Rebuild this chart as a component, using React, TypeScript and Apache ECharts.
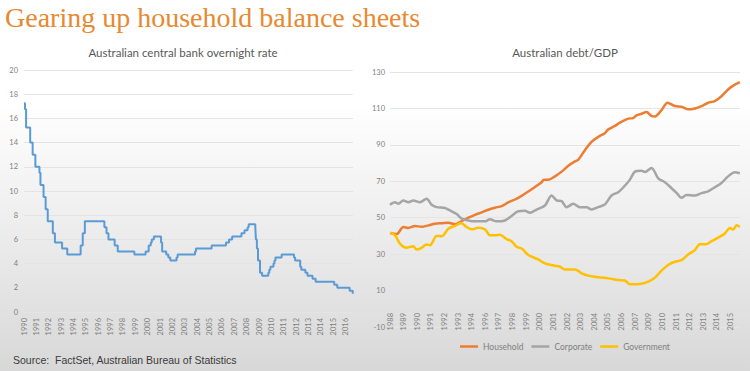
import React, { useEffect, useRef } from "react";
import * as echarts from "echarts";

// Australian cash rate: [decimal year of change, rate %]
const cashRate: [number, number][] = [
  [1990.0, 17.25], [1990.08, 16.75], [1990.17, 15.25], [1990.5, 14.0], [1990.7, 13.0],
  [1990.92, 12.0], [1991.25, 11.5], [1991.33, 10.5], [1991.58, 9.5], [1991.75, 8.5],
  [1991.92, 7.5], [1992.33, 6.5], [1992.5, 5.75], [1993.08, 5.25], [1993.5, 4.75],
  [1994.58, 5.5], [1994.75, 6.5], [1994.92, 7.5], [1996.5, 7.0], [1996.67, 6.5],
  [1996.83, 6.0], [1997.33, 5.5], [1997.58, 5.0], [1998.92, 4.75], [1999.83, 5.0],
  [2000.08, 5.5], [2000.25, 5.75], [2000.33, 6.0], [2000.5, 6.25], [2001.08, 5.75],
  [2001.17, 5.0], [2001.5, 4.75], [2001.67, 4.5], [2001.83, 4.25], [2002.33, 4.5],
  [2002.42, 4.75], [2003.83, 5.0], [2003.9, 5.25], [2005.17, 5.5], [2006.33, 5.75],
  [2006.58, 6.0], [2006.83, 6.25], [2007.58, 6.5], [2007.83, 6.75], [2008.08, 7.0],
  [2008.17, 7.25], [2008.7, 7.0], [2008.75, 6.0], [2008.83, 5.25], [2008.92, 4.25],
  [2009.08, 3.25], [2009.25, 3.0], [2009.75, 3.25], [2009.83, 3.5], [2009.92, 3.75],
  [2010.17, 4.0], [2010.25, 4.25], [2010.33, 4.5], [2010.83, 4.75], [2011.83, 4.5],
  [2011.92, 4.25], [2012.33, 3.75], [2012.42, 3.5], [2012.75, 3.25], [2012.92, 3.0],
  [2013.33, 2.75], [2013.58, 2.5], [2015.08, 2.25], [2015.33, 2.0], [2016.33, 1.75],
  [2016.58, 1.5],
];

// Debt / GDP (%): [decimal year, value]
const household: [number, number][] = [
  [1988.42, 41.6], [1988.95, 41.0], [1989.48, 44.9], [1989.88, 44.4], [1990.41, 45.5],
  [1990.94, 45.0], [1991.47, 45.8], [1992.0, 46.7], [1992.53, 47.0], [1993.06, 47.3],
  [1993.59, 46.4], [1993.98, 47.6], [1994.65, 50.0], [1995.18, 51.6], [1995.71, 52.9],
  [1996.24, 54.4], [1996.77, 55.5], [1997.3, 56.4], [1997.83, 58.4], [1998.36, 60.0],
  [1998.89, 62.0], [1999.42, 64.4], [1999.95, 66.9], [2000.48, 69.5], [2000.66, 70.9],
  [2001.01, 70.9], [2001.54, 72.7], [2002.07, 75.3], [2002.6, 78.5], [2003.13, 80.9],
  [2003.39, 81.8], [2003.92, 87.1], [2004.45, 91.6], [2004.98, 94.4], [2005.51, 96.4],
  [2005.78, 98.5], [2006.31, 100.4], [2006.7, 102.2], [2007.37, 104.4], [2007.76, 104.7],
  [2008.03, 106.2], [2008.43, 107.1], [2008.82, 108.0], [2009.22, 105.8], [2009.49, 105.6],
  [2010.01, 109.1], [2010.49, 113.1], [2011.07, 111.3], [2011.6, 110.9], [2012.13, 109.5],
  [2012.66, 110.0], [2013.19, 111.3], [2013.72, 113.1], [2014.25, 114.0], [2014.78, 116.7],
  [2015.31, 120.4], [2015.71, 122.5], [2016.24, 124.4],
];

const corporate: [number, number][] = [
  [1988.42, 57.1], [1988.82, 58.5], [1989.08, 57.6], [1989.48, 59.5], [1989.88, 58.5],
  [1990.27, 59.5], [1990.8, 58.5], [1991.33, 60.4], [1991.73, 57.1], [1992.13, 55.8],
  [1992.79, 55.3], [1993.19, 54.0], [1993.72, 52.0], [1994.12, 49.5], [1994.65, 48.5],
  [1995.18, 48.0], [1995.97, 48.0], [1996.37, 49.1], [1996.9, 48.0], [1997.56, 48.5],
  [1998.09, 50.9], [1998.62, 53.6], [1999.15, 53.8], [1999.55, 52.7], [2000.08, 54.5],
  [2000.74, 56.7], [2001.27, 62.2], [2001.67, 59.5], [2002.07, 59.1], [2002.46, 55.8],
  [2002.99, 57.6], [2003.52, 55.8], [2004.05, 55.8], [2004.45, 54.5], [2004.98, 55.8],
  [2005.51, 57.3], [2006.04, 62.2], [2006.57, 64.0], [2007.1, 67.6], [2007.5, 70.9],
  [2007.9, 75.3], [2008.43, 75.8], [2008.69, 75.1], [2009.22, 77.3], [2009.75, 71.6],
  [2010.28, 69.5], [2010.81, 66.2], [2011.21, 63.6], [2011.6, 60.9], [2012.0, 62.5],
  [2012.66, 62.2], [2013.19, 63.5], [2013.72, 64.5], [2014.25, 66.7], [2014.78, 69.1],
  [2015.31, 72.7], [2015.84, 74.9], [2016.24, 74.4],
];

const government: [number, number][] = [
  [1988.42, 41.8], [1988.82, 40.4], [1989.21, 35.8], [1989.74, 33.5], [1990.27, 34.4],
  [1990.54, 32.5], [1990.94, 33.5], [1991.33, 35.3], [1991.6, 34.9], [1992.13, 40.0],
  [1992.53, 39.8], [1993.06, 44.0], [1993.59, 45.5], [1994.06, 47.1], [1994.51, 44.9],
  [1994.91, 43.6], [1995.44, 44.5], [1995.97, 43.6], [1996.37, 40.4], [1996.77, 40.4],
  [1997.16, 40.7], [1997.69, 38.2], [1998.09, 37.1], [1998.49, 34.0], [1998.89, 33.1],
  [1999.42, 29.5], [2000.21, 27.1], [2000.74, 24.9], [2001.54, 23.6], [2001.93, 23.1],
  [2002.33, 21.6], [2003.13, 21.6], [2003.66, 19.5], [2004.19, 18.2], [2004.98, 17.3],
  [2005.78, 16.7], [2006.57, 15.8], [2007.1, 15.5], [2007.5, 13.5], [2008.43, 13.8],
  [2008.96, 14.9], [2009.49, 17.1], [2010.01, 20.9], [2010.54, 24.0], [2011.07, 25.8],
  [2011.6, 26.7], [2012.13, 29.8], [2012.66, 32.2], [2013.06, 35.5], [2013.59, 35.5],
  [2013.99, 37.1], [2014.52, 39.1], [2015.05, 41.3], [2015.45, 44.4], [2015.71, 43.5],
  [2015.98, 45.8], [2016.24, 44.9],
];

const seriesNames = ["Household", "Corporate", "Government"];
const seriesColors = ["#ED7D31", "#A5A5A5", "#FFC000"];

// right chart x axis: months since mid-1988, labelled every 13 months (as in the source)
const debtStartYear = 1988.42;
const toMonth = (t: number) => Math.round((t - debtStartYear) * 12 * 100) / 100;
const monthLabel = (m: number) =>
  m % 13 === 0 ? String(1988 + Math.floor((m + 5) / 12)) : "";

const tickColor = "#7f7f7f";
const gridColor = "#e4e4e4";
const tickFont = "Lato";

export default function App() {
  const ref = useRef<HTMLDivElement>(null);
  useEffect(() => {
    if (!ref.current) return;
    const chart = echarts.init(ref.current, null, { renderer: "svg" });
    const debtSeries = [household, corporate, government].map((d, i) => ({
      name: seriesNames[i],
      type: "line",
      xAxisIndex: 1,
      yAxisIndex: 1,
      data: d.map(([t, v]) => [toMonth(t), v]),
      showSymbol: false,
      smooth: 0.3,
      lineStyle: { color: seriesColors[i], width: 2.5 },
      itemStyle: { color: seriesColors[i] },
    }));
    chart.setOption({
      animation: false,
      backgroundColor: "transparent",
      textStyle: { fontFamily: tickFont },
      graphic: [
        {
          type: "text",
          x: 5,
          y: 17,
          style: {
            text: "Gearing up household balance sheets",
            fill: "#E8892F",
            font: '28px "Liberation Serif"',
            textVerticalAlign: "middle",
          },
        },
        {
          type: "text",
          x: 183,
          y: 52,
          style: {
            text: "Australian central bank overnight rate",
            fill: "#595959",
            font: "11.5px Lato",
            textAlign: "center",
            textVerticalAlign: "middle",
          },
        },
        {
          type: "text",
          x: 565,
          y: 52,
          style: {
            text: "Australian debt/GDP",
            fill: "#595959",
            font: "11.5px Lato",
            textAlign: "center",
            textVerticalAlign: "middle",
          },
        },
        {
          type: "text",
          x: 13,
          y: 360,
          style: {
            text: "Source:  FactSet, Australian Bureau of Statistics",
            fill: "#3a3a3a",
            font: '10.5px "Liberation Sans"',
            textVerticalAlign: "middle",
          },
        },
      ],
      legend: {
        data: seriesNames,
        left: 455,
        top: 337,
        icon: "rect",
        itemWidth: 18,
        itemHeight: 2.5,
        itemGap: 8,
        textStyle: { fontSize: 8.5, color: tickColor, fontFamily: tickFont },
      },
      grid: [
        { left: 24, top: 70, width: 329, height: 242 },
        { left: 390, top: 72, width: 350, height: 255 },
      ],
      xAxis: [
        {
          type: "value",
          gridIndex: 0,
          min: 1990,
          max: 2016.6,
          interval: 1,
          axisLine: { show: false },
          axisTick: { show: false },
          splitLine: { show: false },
          axisLabel: {
            rotate: 90,
            fontSize: 7.5,
            color: tickColor,
            margin: 6,
            formatter: (v: number) => (Number.isInteger(v) ? String(v) : ""),
          },
        },
        {
          type: "value",
          gridIndex: 1,
          min: 0,
          max: 334,
          interval: 13,
          offset: -18,
          axisLine: { show: false, onZero: false },
          axisTick: { show: false },
          splitLine: { show: false },
          axisLabel: {
            rotate: 90,
            fontSize: 7.5,
            color: tickColor,
            margin: 4,
            formatter: (v: number) => monthLabel(v),
          },
        },
      ],
      yAxis: [
        {
          type: "value",
          gridIndex: 0,
          min: 0,
          max: 20,
          interval: 2,
          axisLine: { show: false },
          axisTick: { show: false },
          splitLine: { lineStyle: { color: gridColor, width: 1 } },
          axisLabel: { fontSize: 7.5, color: tickColor, margin: 6 },
        },
        {
          type: "value",
          gridIndex: 1,
          min: -10,
          max: 130,
          interval: 20,
          axisLine: { show: false },
          axisTick: { show: false },
          splitLine: { lineStyle: { color: gridColor, width: 1 } },
          axisLabel: { fontSize: 7.5, color: tickColor, margin: 5 },
        },
      ],
      series: [
        {
          name: "Cash rate",
          type: "line",
          xAxisIndex: 0,
          yAxisIndex: 0,
          step: "end",
          data: cashRate,
          showSymbol: false,
          lineStyle: { color: "#5B9BD5", width: 2 },
          itemStyle: { color: "#5B9BD5" },
        },
        ...debtSeries,
      ],
    });
    return () => chart.dispose();
  }, []);
  return (
    <div
      style={{
        position: "fixed",
        left: 0,
        top: 0,
        width: 750,
        height: 371,
        background: "linear-gradient(180deg, #ffffff 0%, #ffffff 28%, #d8d8d8 100%)",
      }}
    >
      <div ref={ref} style={{ width: 750, height: 371 }} />
    </div>
  );
}
